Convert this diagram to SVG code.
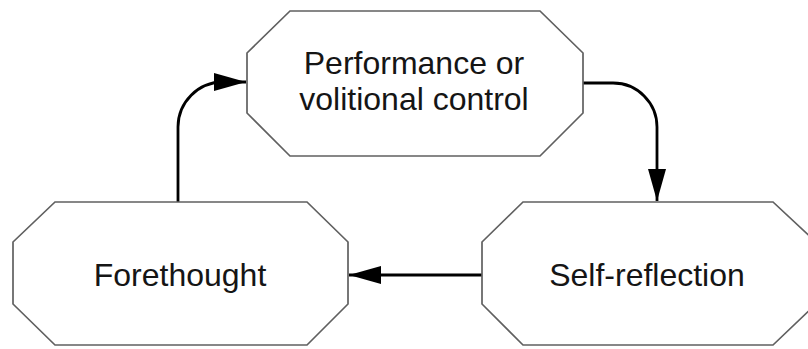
<svg xmlns="http://www.w3.org/2000/svg" width="808" height="349" viewBox="0 0 808 349">
<style>
.node{fill:#fff;stroke:#606060;stroke-width:1.7}
.lbl{font-family:"Liberation Sans",Arial,sans-serif;font-size:32px;fill:#151515;text-anchor:middle}
.conn{fill:none;stroke:#000;stroke-width:2.8}
</style>
<defs>
<marker id="ah" markerUnits="userSpaceOnUse" markerWidth="32" markerHeight="20" refX="32" refY="10" orient="auto" viewBox="0 0 32 20">
<path d="M0,1 L32,10 L0,19 Z" fill="#000"/>
</marker>
</defs>
<g id="connectors">
<path class="conn" d="M178,202 V127 A45,45 0 0 1 223,82 H246" marker-end="url(#ah)"/>
<path class="conn" d="M583,83 H613 A44,44 0 0 1 657,127 V201" marker-end="url(#ah)"/>
<path class="conn" d="M482,275 H349" marker-end="url(#ah)"/>
</g>
<g id="performance">
<polygon class="node" points="290,11 540,11 583,53 583,113 540,156 290,156 247,113 247,53"/>
<text class="lbl" x="414" y="74">Performance or</text>
<text class="lbl" x="414" y="110">volitional control</text>
</g>
<g id="forethought">
<polygon class="node" points="55,202 307,202 348,242 348,304 307,345 55,345 13,304 13,242"/>
<text class="lbl" x="180" y="286">Forethought</text>
</g>
<g id="selfreflection">
<polygon class="node" points="523,202 773,202 816,242 816,304 773,345 523,345 482,304 482,242"/>
<text class="lbl" x="647" y="286">Self-reflection</text>
</g>
</svg>
